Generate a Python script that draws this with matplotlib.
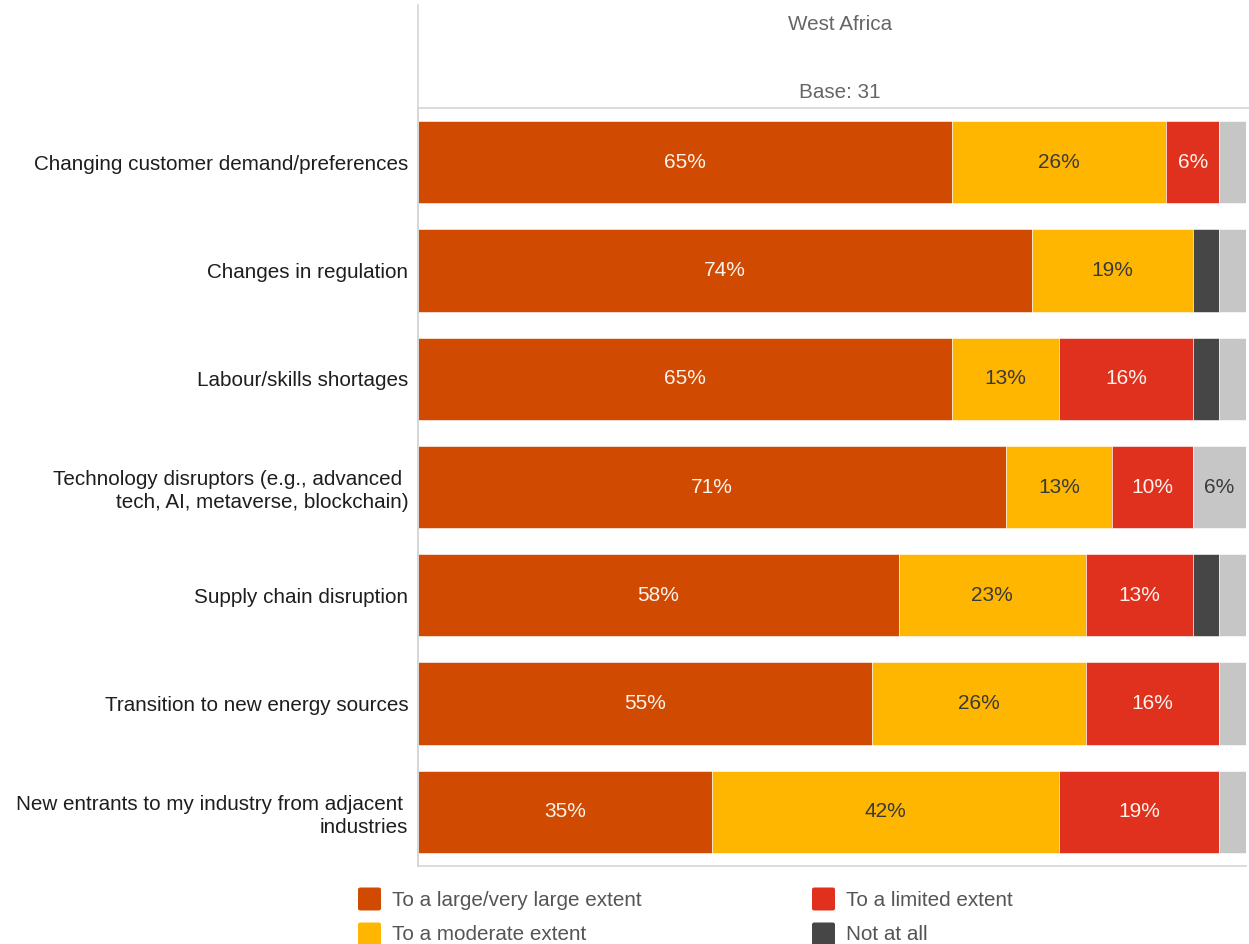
import matplotlib.pyplot as plt
from matplotlib.lines import Line2D
from matplotlib.patches import FancyBboxPatch

# Share of respondents (%), base 31, West Africa
categories = [
    "Changing customer demand/preferences",
    "Changes in regulation",
    "Labour/skills shortages",
    "Technology disruptors (e.g., advanced \ntech, AI, metaverse, blockchain)",
    "Supply chain disruption",
    "Transition to new energy sources",
    "New entrants to my industry from adjacent \nindustries",
]
series_names = [
    "To a large/very large extent",
    "To a moderate extent",
    "To a limited extent",
    "Not at all",
    "Don't know",
]
large = [64.52, 74.19, 64.52, 70.97, 58.06, 54.84, 35.48]
moderate = [25.81, 19.35, 12.90, 12.90, 22.58, 25.81, 41.94]
limited = [6.45, 0, 16.13, 9.68, 12.90, 16.13, 19.35]
not_at_all = [0, 3.23, 3.23, 0, 3.23, 0, 0]
dont_know = [3.23, 3.23, 3.23, 6.45, 3.23, 3.23, 3.23]
region = "West Africa"
base = 31

colors = ["#D04A02", "#FFB600", "#E0301E", "#464646", "#C6C6C6"]
label_colors = ["#FFF3EC", "#3A3A3A", "#FFF3EC", "white", "#3A3A3A"]

plt.rcParams["font.family"] = ["Liberation Sans", "DejaVu Sans"]

W, H = 1249, 944
fig = plt.figure(figsize=(W / 100, H / 100), dpi=100)


def fx(px):
    return px / W


def fy(py):
    return 1 - py / H


ax = fig.add_axes([fx(418), fy(866), fx(1246) - fx(418), fy(108) - fy(866)])

series = [large, moderate, limited, not_at_all, dont_know]
ypos = list(range(len(categories)))
left = [0.0] * len(categories)
for vals, color, tcol in zip(series, colors, label_colors):
    ax.barh(ypos, vals, left=left, height=0.76, color=color,
            edgecolor="white", linewidth=0.4)
    for y, v, l in zip(ypos, vals, left):
        if v >= 5:
            ax.text(l + v / 2, y, f"{v:.0f}%", ha="center", va="center",
                    color=tcol, fontsize=15)
    left = [l + v for l, v in zip(left, vals)]

ax.set_xlim(0, 100)
ax.set_ylim(len(categories) - 0.5, -0.5)
ax.set_xticks([])
ax.set_yticks(ypos)
ax.set_yticklabels(categories, fontsize=14.9, color="#1E1E1E",
                   multialignment="right", linespacing=1.3)
ax.tick_params(axis="y", length=0, pad=7)
for side in ("top", "right"):
    ax.spines[side].set_visible(False)
for side in ("left", "bottom"):
    ax.spines[side].set_color("#D6D6D6")
    ax.spines[side].set_linewidth(1.2)

# header frame and column title
fig.add_artist(Line2D([fx(418), fx(418)], [fy(866), fy(5)], color="#D6D6D6", lw=1.2))
fig.add_artist(Line2D([fx(418), fx(1249)], [fy(108), fy(108)], color="#D6D6D6", lw=1.2))
fig.text(fx(840), fy(25), region, ha="center", va="center", fontsize=14.9, color="#666666")
fig.text(fx(840), fy(92), f"Base: {base}", ha="center", va="center", fontsize=14.9, color="#666666")

# legend (the "Don't know" series is not listed)
legend_slots = [(358, 899), (358, 934), (812, 899), (812, 934)]
for (lx, ly), name, color in zip(legend_slots, series_names[:4], colors[:4]):
    sq = 23
    fig.add_artist(FancyBboxPatch((fx(lx), fy(ly + sq / 2)), fx(sq), sq / H,
                                  boxstyle="round,pad=0,rounding_size=0.002",
                                  facecolor=color, edgecolor="none",
                                  transform=fig.transFigure))
    fig.text(fx(lx + 34), fy(ly + 1), name, ha="left", va="center",
             fontsize=14.9, color="#555555")

fig.savefig("out.png", dpi=100)
